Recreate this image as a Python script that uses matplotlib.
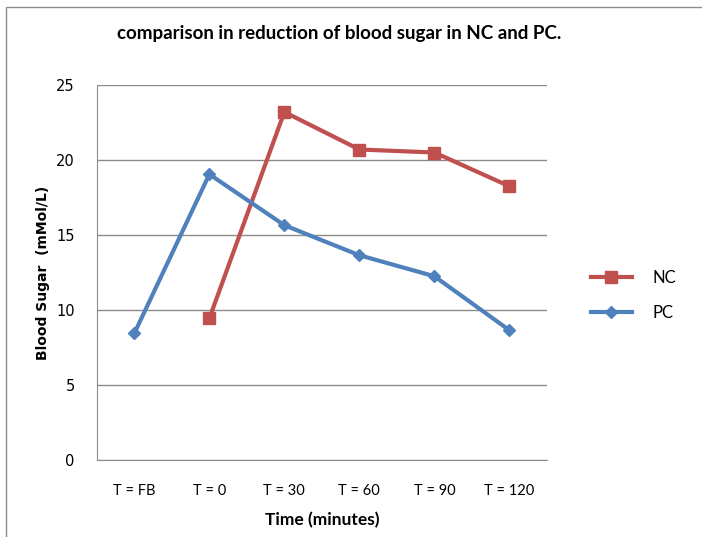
import matplotlib
matplotlib.use("Agg")
import matplotlib.pyplot as plt
import numpy as np

categories = ["T = FB", "T = 0", "T = 30", "T = 60", "T = 90", "T = 120"]
nc = [np.nan, 9.45, 23.2, 20.7, 20.5, 18.25]
pc = [8.45, 19.05, 15.65, 13.65, 12.25, 8.65]

fig = plt.figure(figsize=(7.02, 5.37), dpi=100)
ax = fig.add_axes([0.138, 0.1434, 0.641, 0.6983])

x = np.arange(len(categories))
ax.plot(x, nc, color="#C0504D", lw=3, marker="s", ms=9, label="NC")
ax.plot(x, pc, color="#4F81BD", lw=3, marker="D", ms=6, label="PC")

ax.set_xlim(-0.5, len(categories) - 0.5)
ax.set_ylim(0, 25)
ax.set_yticks([0, 5, 10, 15, 20, 25])
ax.set_xticks(x)
ax.set_xticklabels(categories, family="Lato", fontsize=10.5)
for t in ax.get_yticklabels():
    t.set_fontsize(10.5)
ax.tick_params(length=0)
ax.tick_params(axis="x", pad=17)
ax.tick_params(axis="y", pad=16)
ax.grid(axis="y", color="#8c8c8c", lw=1)
ax.set_axisbelow(True)
for s in ["top", "right"]:
    ax.spines[s].set_visible(False)
for s in ["left", "bottom"]:
    ax.spines[s].set_color("#8c8c8c")

ax.set_xlabel("Time (minutes)", family="Lato", fontweight="bold", fontsize=12.5, labelpad=10)
ax.set_ylabel("Blood Sugar  (mMol/L)", fontweight="bold", fontsize=10, labelpad=4)
fig.text(0.483, 0.937, "comparison in reduction of blood sugar in NC and PC.",
         family="Lato", fontweight="bold", fontsize=13.5, ha="center", va="center")

fig.legend(loc="center left", bbox_to_anchor=(0.82, 0.45), frameon=False,
           labelspacing=1.1, handlelength=2.5, handletextpad=1.2,
           prop={"family": "Lato", "size": 12})

fig.patches.append(plt.Rectangle((0.009, -0.1), 1.2, 1.087, transform=fig.transFigure,
                                 fill=False, edgecolor="#8c8c8c", lw=1))
fig.savefig("out.png", dpi=100)
